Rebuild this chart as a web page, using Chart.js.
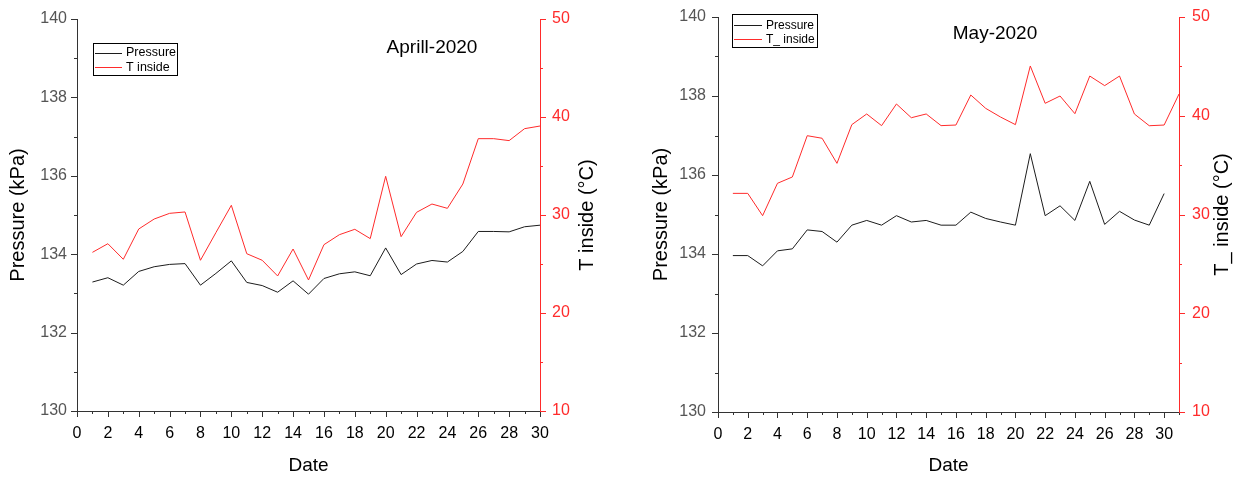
<!DOCTYPE html>
<html>
<head>
<meta charset="utf-8">
<script src="https://cdn.jsdelivr.net/npm/chart.js@4.4.1/dist/chart.umd.min.js"></script>
<style>
  html, body { margin: 0; padding: 0; background: #fff; }
  #wrap { position: relative; width: 1242px; height: 478px; overflow: hidden; }
  .panel { position: absolute; top: 0; width: 621px; height: 478px; }
</style>
</head>
<body>
<div id="wrap">
  <div class="panel" style="left:0"><canvas id="april" width="621" height="478"></canvas></div>
  <div class="panel" style="left:621px"><canvas id="may" width="621" height="478"></canvas></div>
</div>
<script>
// Daily readings, April 2020
const aprilDays = [1, 2, 3, 4, 5, 6, 7, 8, 9, 10, 11, 12, 13, 14, 15,
                   16, 17, 18, 19, 20, 21, 22, 23, 24, 25, 26, 27, 28, 29, 30];
const aprilPressure = [133.29, 133.40, 133.21, 133.56, 133.68, 133.74, 133.76, 133.21, 133.51, 133.83,
                       133.28, 133.20, 133.03, 133.32, 132.98, 133.38, 133.50, 133.55, 133.45, 134.16,
                       133.48, 133.75, 133.84, 133.80, 134.07, 134.58, 134.58, 134.57, 134.70, 134.74];
const aprilTemp = [26.19, 27.07, 25.48, 28.57, 29.59, 30.17, 30.31, 25.38, 28.20, 30.99,
                   26.05, 25.38, 23.78, 26.53, 23.37, 26.97, 27.99, 28.54, 27.59, 33.95,
                   27.79, 30.27, 31.12, 30.68, 33.16, 37.79, 37.79, 37.59, 38.81, 39.08];

// Daily readings, May 2020
const mayDays = [1, 2, 3, 4, 5, 6, 7, 8, 9, 10, 11, 12, 13, 14, 15, 16,
                 17, 18, 19, 20, 21, 22, 23, 24, 25, 26, 27, 28, 29, 30, 31];
const mayPressure = [133.96, 133.96, 133.70, 134.08, 134.13, 134.61, 134.57, 134.30, 134.73, 134.85,
                     134.73, 134.97, 134.81, 134.85, 134.73, 134.73, 135.06, 134.90, 134.81, 134.73,
                     136.54, 134.97, 135.22, 134.85, 135.84, 134.75, 135.08, 134.86, 134.73, 135.53];
const mayTemp = [32.14, 32.14, 29.88, 33.16, 33.80, 37.98, 37.72, 35.18, 39.10, 40.18,
                 39.00, 41.19, 39.80, 40.18, 39.00, 39.06, 42.10, 40.75, 39.87, 39.10,
                 45.04, 41.26, 42.00, 40.21, 44.02, 43.05, 44.02, 40.18, 38.99, 39.06, 42.20];

// Axis tick labels
const dateTicks = [0, 2, 4, 6, 8, 10, 12, 14, 16, 18, 20, 22, 24, 26, 28, 30];
const pressureTicks = [130, 132, 134, 136, 138, 140];
const tempTicks = [10, 20, 30, 40, 50];

const FONT = '"Liberation Sans", Arial, Helvetica, sans-serif';
const RED = '#ff2b2b';
const INK = '#1c1c1c';

function points(xs, ys) {
  return ys.map((v, i) => ({ x: xs[i], y: v }));
}

// Origin-style outward tick marks: long at labelled values, short in between
const tickMarks = {
  id: 'tickMarks',
  afterDraw(chart, args, opts) {
    const ctx = chart.ctx;
    ctx.save();
    ctx.lineWidth = 1;
    (opts.axes || []).forEach(a => {
      const s = chart.scales[a.id];
      ctx.strokeStyle = a.color;
      ctx.beginPath();
      for (let k = 0; ; k++) {
        const v = s.min + k * a.minor;
        if (v > s.max + 1e-9) break;
        const isMajor = Math.abs(v / a.major - Math.round(v / a.major)) < 1e-6;
        const len = isMajor ? 6 : 3;
        const p = Math.round(s.getPixelForValue(v)) + 0.5;
        if (a.side === 'bottom') {
          const y0 = Math.round(s.top);
          ctx.moveTo(p, y0); ctx.lineTo(p, y0 + len);
        } else if (a.side === 'left') {
          const x0 = Math.round(s.right);
          ctx.moveTo(x0, p); ctx.lineTo(x0 - len, p);
        } else {
          const x0 = Math.round(s.left);
          ctx.moveTo(x0, p); ctx.lineTo(x0 + len, p);
        }
      }
      ctx.stroke();
    });
    ctx.restore();
  }
};

// Framed legend inside the plot area
const boxLegend = {
  id: 'boxLegend',
  afterDraw(chart, args, o) {
    const ctx = chart.ctx, ca = chart.chartArea;
    const x = Math.round(ca.left + o.dx), y = Math.round(ca.top + o.dy);
    ctx.save();
    ctx.lineWidth = 1;
    ctx.strokeStyle = '#000';
    ctx.strokeRect(x + 0.5, y + 0.5, o.w, o.h);
    ctx.font = o.fontSize + 'px ' + FONT;
    ctx.textBaseline = 'middle';
    ctx.textAlign = 'left';
    chart.data.datasets.forEach((d, i) => {
      const cy = y + o.rows[i];
      ctx.strokeStyle = d.borderColor;
      ctx.beginPath();
      ctx.moveTo(x + 2, Math.round(cy) + 0.5);
      ctx.lineTo(x + o.lineEnd, Math.round(cy) + 0.5);
      ctx.stroke();
      ctx.fillStyle = '#000';
      ctx.fillText(d.label, x + o.textX, cy + 0.5);
    });
    ctx.restore();
  }
};

// Panel heading and the right-hand axis title (read bottom to top)
const panelText = {
  id: 'panelText',
  afterDraw(chart, args, o) {
    const ctx = chart.ctx, ca = chart.chartArea;
    ctx.save();
    ctx.fillStyle = '#000';
    ctx.textAlign = 'center';
    ctx.textBaseline = 'middle';
    ctx.font = '19px ' + FONT;
    ctx.fillText(o.heading, ca.left + o.headX, ca.top + o.headY);
    ctx.translate(ca.right + o.rightTitleX, (ca.top + ca.bottom) / 2);
    ctx.rotate(-Math.PI / 2);
    ctx.font = '20px ' + FONT;
    ctx.fillText(o.rightTitle, 0, 0);
    ctx.restore();
  }
};

function makeChart(id, cfg) {
  const datasets = [
    { label: 'Pressure', data: points(cfg.days, cfg.pressure), yAxisID: 'y',
      borderColor: INK, borderWidth: 1, pointRadius: 0, tension: 0, fill: false },
    { label: cfg.tempLabel, data: points(cfg.days, cfg.temp), yAxisID: 'y2',
      borderColor: RED, borderWidth: 1, pointRadius: 0, tension: 0, fill: false }
  ];
  return new Chart(document.getElementById(id), {
    type: 'line',
    data: { datasets },
    options: {
      responsive: false,
      animation: false,
      events: [],
      layout: { padding: { top: cfg.top, left: 0, right: 0, bottom: 0 } },
      plugins: {
        legend: { display: false },
        tooltip: { enabled: false },
        tickMarks: { axes: [
          { id: 'x', side: 'bottom', major: 2, minor: 1, color: '#333' },
          { id: 'y', side: 'left', major: 2, minor: 1, color: '#333' },
          { id: 'y2', side: 'right', major: 10, minor: 5, color: RED }
        ] },
        boxLegend: cfg.legend,
        panelText: { heading: cfg.heading, headX: cfg.headX, headY: cfg.headY,
                     rightTitle: cfg.rightTitle, rightTitleX: cfg.rightTitleX }
      },
      scales: {
        x: {
          type: 'linear', position: 'bottom', min: 0, max: cfg.xMax,
          afterBuildTicks: s => { s.ticks = dateTicks.map(v => ({ value: v })); },
          afterFit: s => { s.height = cfg.xHeight; s.paddingLeft = 0; s.paddingRight = 0; },
          grid: { display: false, drawTicks: false },
          border: { display: true, color: '#333', width: 1 },
          ticks: { color: '#000', font: { size: 16, family: FONT }, padding: 13,
                   maxRotation: 0, autoSkip: false },
          title: { display: true, text: 'Date', color: '#000',
                   font: { size: 19, family: FONT }, padding: { top: 0, bottom: 1 } }
        },
        y: {
          type: 'linear', position: 'left', min: 130, max: 140,
          afterBuildTicks: s => { s.ticks = pressureTicks.map(v => ({ value: v })); },
          afterFit: s => { s.width = cfg.yWidth; s.paddingTop = 0; s.paddingBottom = 0; },
          grid: { display: false, drawTicks: false },
          border: { display: true, color: '#333', width: 1 },
          ticks: { color: '#555', font: { size: 16, family: FONT }, padding: cfg.yPad },
          title: { display: true, text: 'Pressure (kPa)', color: '#000',
                   font: { size: 20, family: FONT }, padding: { top: cfg.yTitlePad, bottom: 0 } }
        },
        y2: {
          type: 'linear', position: 'right', min: 10, max: 50,
          afterBuildTicks: s => { s.ticks = tempTicks.map(v => ({ value: v })); },
          afterFit: s => { s.width = cfg.y2Width; s.paddingTop = 0; s.paddingBottom = 0; },
          grid: { display: false, drawTicks: false },
          border: { display: true, color: RED, width: 1 },
          ticks: { color: RED, font: { size: 16, family: FONT }, padding: cfg.y2Pad }
        }
      }
    },
    plugins: [tickMarks, boxLegend, panelText]
  });
}

makeChart('april', {
  days: aprilDays, pressure: aprilPressure, temp: aprilTemp,
  tempLabel: 'T inside', heading: 'Aprill-2020', rightTitle: 'T inside (\u00B0C)',
  xMax: 30, top: 19, xHeight: 67, yWidth: 77, y2Width: 81,
  yPad: 10, y2Pad: 12, yTitlePad: 6, rightTitleX: 47,
  headX: 355, headY: 29,
  legend: { dx: 16, dy: 24, w: 84, h: 32, rows: [9.5, 24], lineEnd: 29, textX: 33, fontSize: 12.5 }
});

makeChart('may', {
  days: mayDays, pressure: mayPressure, temp: mayTemp,
  tempLabel: 'T_ inside', heading: 'May-2020', rightTitle: 'T_ inside (\u00B0C)',
  xMax: 31, top: 17, xHeight: 66, yWidth: 97, y2Width: 63,
  yPad: 12, y2Pad: 13, yTitlePad: 28, rightTitleX: 43,
  headX: 277, headY: 17,
  legend: { dx: 14, dy: -3, w: 85, h: 33, rows: [11, 25], lineEnd: 30, textX: 34, fontSize: 12 }
});
</script>
</body>
</html>
